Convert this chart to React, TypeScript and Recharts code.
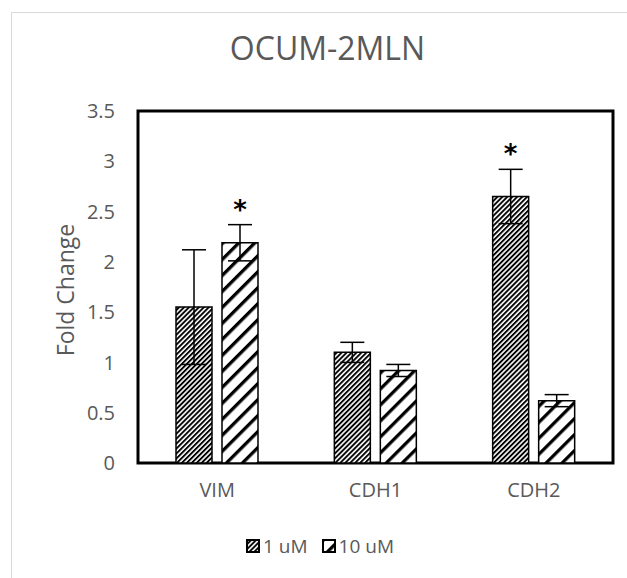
import {
  BarChart,
  Bar,
  XAxis,
  YAxis,
  ErrorBar,
  LabelList,
  Legend,
  ReferenceArea,
} from "recharts";

// #region Sample data
const genes = ["VIM", "CDH1", "CDH2"];
const oneUM = [1.55, 1.1, 2.65];
const oneUMErr = [0.57, 0.1, 0.27];
const tenUM = [2.19, 0.92, 0.62];
const tenUMErr = [0.18, 0.06, 0.06];
const oneUMSig = [false, false, true];
const tenUMSig = [true, false, false];
const yTicks = [0, 0.5, 1, 1.5, 2, 2.5, 3, 3.5];

const data = genes.map((gene, i) => ({
  gene,
  one: oneUM[i],
  oneErr: oneUMErr[i],
  ten: tenUM[i],
  tenErr: tenUMErr[i],
}));
// #endregion

const FONT = "'Open Sans', sans-serif";
const GREY = "#595959";

const starLabel =
  (sig: boolean[], err: number[], vals: number[]) => (props: any) => {
    const { x, y, width, height, index } = props;
    if (!sig[index]) return null;
    const perUnit = Number(height) / vals[index];
    const top = Number(y) - err[index] * perUnit;
    return (
      <text
        x={Number(x) + Number(width) / 2}
        y={top - 6}
        textAnchor="middle"
        fontSize={26}
        fontWeight="bold"
        fontFamily="'DejaVu Sans', sans-serif"
        fill="#000"
      >
        *
      </text>
    );
  };

const legendItems = [
  { label: "1 uM", fill: "url(#hatch-fine)" },
  { label: "10 uM", fill: "url(#hatch-wide)" },
];

const renderLegend = () => (
  <div
    style={{
      display: "flex",
      justifyContent: "center",
      gap: 14,
      fontFamily: FONT,
      fontSize: 19,
      color: GREY,
    }}
  >
    {legendItems.map((it) => (
      <span key={it.label} style={{ display: "flex", alignItems: "center" }}>
        <svg width={14} height={14}>
          <rect x={1} y={1} width={12} height={12} fill={it.fill} stroke="#000" strokeWidth={2} />
        </svg>
        <span style={{ marginLeft: 3 }}>{it.label}</span>
      </span>
    ))}
  </div>
);

export default function App() {
  return (
    <div style={{ position: "absolute", left: 0, top: 0, width: 627, height: 578, background: "#fff", overflow: "hidden" }}>
      <svg width={0} height={0} style={{ position: "absolute" }}>
        <defs>
          <pattern id="hatch-fine" width="3.5" height="3.5" patternUnits="userSpaceOnUse" patternTransform="rotate(45)">
            <rect width="3.5" height="3.5" fill="#fff" />
            <rect width="1.9" height="3.5" fill="#000" />
          </pattern>
          <pattern id="hatch-wide" width="11.3" height="11.3" patternUnits="userSpaceOnUse" patternTransform="rotate(45)">
            <rect width="11.3" height="11.3" fill="#fff" />
            <rect width="3.3" height="11.3" fill="#000" />
          </pattern>
        </defs>
      </svg>
      <div
        style={{
          position: "absolute",
          left: 11,
          top: 12,
          width: 640,
          height: 600,
          border: "1px solid #d9d9d9",
        }}
      />
      <div
        style={{
          position: "absolute",
          left: 0,
          top: 26,
          width: 655,
          textAlign: "center",
          fontFamily: FONT,
          fontSize: 32,
          color: GREY,
        }}
      >
        OCUM-2MLN
      </div>
      <div
        style={{
          position: "absolute",
          left: 65,
          top: 290,
          transform: "translate(-50%, -50%) rotate(-90deg)",
          fontFamily: FONT,
          fontSize: 23,
          color: GREY,
          whiteSpace: "nowrap",
        }}
      >
        Fold Change
      </div>
      <div style={{ position: "absolute", left: 0, top: 0 }}>
        <BarChart
          width={627}
          height={578}
          data={data}
          margin={{ top: 111, right: 14, left: 0, bottom: 59 }}
          barSize={36}
          barGap={10}
        >
          <XAxis
            dataKey="gene"
            axisLine={false}
            tickLine={false}
            tickSize={0}
            tickMargin={20}
            tick={{ fill: GREY, fontSize: 20, fontFamily: FONT }}
          />
          <YAxis
            width={138}
            domain={[0, 3.5]}
            ticks={yTicks}
            axisLine={false}
            tickLine={false}
            tickSize={0}
            tickMargin={23}
            tick={{ fill: GREY, fontSize: 20, fontFamily: FONT }}
          />
          <ReferenceArea y1={0} y2={3.5} fill="none" stroke="#000" strokeWidth={3} />
          <Bar dataKey="one" name="1 uM" fill="url(#hatch-fine)" stroke="#000" strokeWidth={1.5} isAnimationActive={false}>
            <ErrorBar dataKey="oneErr" width={12} stroke="#000" strokeWidth={1.5} />
            <LabelList dataKey="one" content={starLabel(oneUMSig, oneUMErr, oneUM)} />
          </Bar>
          <Bar dataKey="ten" name="10 uM" fill="url(#hatch-wide)" stroke="#000" strokeWidth={1.5} isAnimationActive={false}>
            <ErrorBar dataKey="tenErr" width={12} stroke="#000" strokeWidth={1.5} />
            <LabelList dataKey="ten" content={starLabel(tenUMSig, tenUMErr, tenUM)} />
          </Bar>
          <Legend
            content={renderLegend}
            wrapperStyle={{ position: "absolute", left: 0, top: 533, width: 640 }}
          />
        </BarChart>
      </div>
    </div>
  );
}
